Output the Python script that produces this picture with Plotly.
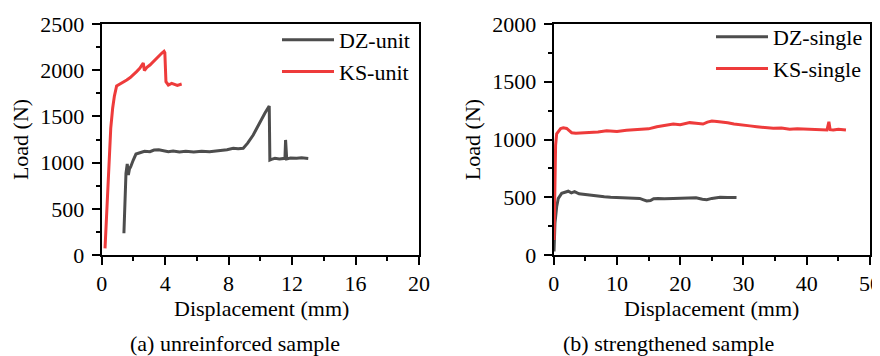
import plotly.graph_objects as go

# ---------------- data ----------------
dz_unit_x = [1.40, 1.47, 1.53, 1.61, 1.68, 1.75, 1.83, 1.99, 2.16, 2.41, 2.7, 3.04, 3.3, 3.6, 3.87, 4.2, 4.5, 4.9,
             5.3, 5.8, 6.3, 6.8, 7.2, 7.46, 7.9, 8.29, 8.6, 8.92, 9.2, 9.55, 9.8, 10.08, 10.3, 10.56,
             10.60, 10.7, 10.92, 11.2, 11.55, 11.59, 11.66, 11.9, 12.29, 12.6, 13.02]
dz_unit_y = [235, 595, 884, 985, 866, 930, 956, 1028, 1093, 1107, 1122, 1118, 1136, 1140, 1130, 1118, 1126, 1114,
             1122, 1116, 1124, 1118, 1126, 1129, 1140, 1155, 1150, 1155, 1210, 1299, 1380, 1479, 1540, 1612,
             1028, 1035, 1046, 1040, 1046, 1245, 1040, 1050, 1046, 1052, 1045]

ks_unit_x = [0.21, 0.35, 0.50, 0.57, 0.69, 0.80, 0.94, 1.10, 1.26, 1.40, 1.58, 1.80, 1.99, 2.20, 2.40, 2.52, 2.62,
             2.69, 2.85, 3.04, 3.25, 3.47, 3.65, 3.78, 3.93, 3.98, 4.05, 4.20, 4.41, 4.62, 4.77, 5.04]
ks_unit_y = [72, 600, 1150, 1371, 1588, 1720, 1829, 1845, 1858, 1870, 1894, 1920, 1948, 1985, 2020, 2056, 2078,
             1995, 2030, 2056, 2095, 2128, 2160, 2183, 2205, 2190, 1876, 1840, 1858, 1850, 1836, 1850]

dz_single_x = [0.05, 0.2, 0.47, 0.73, 1.26, 2.05, 2.3, 2.8, 3.3, 4.0, 4.7, 5.2, 6.0, 7.0, 8.0, 9.0, 10.0, 11.0, 12.0,
               13.0, 13.6, 14.2, 14.7, 15.3, 15.8, 16.5, 17.5, 18.9, 20.0, 21.5, 22.5, 23.5, 24.2, 25.0, 26.3,
               27.5, 28.9]
dz_single_y = [30, 277, 418, 491, 534, 548, 552, 538, 548, 530, 525, 519, 515, 508, 505, 500, 499, 498, 495,
               492, 490, 478, 468, 472, 488, 490, 487, 490, 492, 499, 495, 482, 478, 490, 499, 498, 497]

ks_single_x = [0.05, 0.15, 0.3, 0.47, 0.8, 1.1, 1.52, 2.05, 2.5, 2.84, 3.5, 4.5, 5.74, 7.0, 8.37, 10.0, 11.5, 13.6,
               15.0, 16.3, 17.5, 18.9, 20.0, 21.5, 22.5, 23.6, 24.3, 25.0, 25.8, 26.6, 27.5, 28.5, 29.5, 31.0,
               32.1, 33.5, 34.7, 36.0, 37.3, 38.5, 40.0, 41.5, 42.6, 43.2, 43.5, 43.7, 44.2, 45.0, 46.2]
ks_single_y = [130, 600, 950, 1050, 1080, 1095, 1102, 1096, 1075, 1059, 1055, 1058, 1059, 1065, 1076, 1070, 1080,
               1088, 1092, 1111, 1120, 1134, 1128, 1146, 1140, 1134, 1150, 1160, 1155, 1152, 1145, 1135, 1126,
               1118, 1111, 1105, 1097, 1100, 1088, 1092, 1088, 1085, 1080, 1082, 1154, 1085, 1082, 1088, 1082]

x1_ticks = [0, 4, 8, 12, 16, 20]
y1_ticks = [0, 500, 1000, 1500, 2000, 2500]
x2_ticks = [0, 10, 20, 30, 40, 50]
y2_ticks = [0, 500, 1000, 1500, 2000]

x_title = "Displacement (mm)"
y_title = "Load (N)"
caption_a = "(a) unreinforced sample"
caption_b = "(b) strengthened sample"

GRAY = "#4d4d4d"
RED = "#ee3b3b"
FONT = "Liberation Serif, Times New Roman, serif"
FS = 22

fig = go.Figure()
fig.add_trace(go.Scatter(x=dz_unit_x, y=dz_unit_y, mode="lines", name="DZ-unit",
                         line=dict(color=GRAY, width=3), xaxis="x", yaxis="y", legend="legend"))
fig.add_trace(go.Scatter(x=ks_unit_x, y=ks_unit_y, mode="lines", name="KS-unit",
                         line=dict(color=RED, width=3), xaxis="x", yaxis="y", legend="legend"))
fig.add_trace(go.Scatter(x=dz_single_x, y=dz_single_y, mode="lines", name="DZ-single",
                         line=dict(color=GRAY, width=3), xaxis="x2", yaxis="y2", legend="legend2"))
fig.add_trace(go.Scatter(x=ks_single_x, y=ks_single_y, mode="lines", name="KS-single",
                         line=dict(color=RED, width=3), xaxis="x2", yaxis="y2", legend="legend2"))

# the page body has an 8px margin, so the figure is sized to fit the window from (8, 8)
OFF = 8
W, H = 880 - OFF, 356 - OFF
def px_x(p): return (p - OFF) / W
def px_y(p): return (H - (p - OFF)) / H

common_axis = dict(showline=True, linecolor="black", linewidth=2, mirror=True, ticks="outside",
                   ticklen=8, tickwidth=2, tickcolor="black", showgrid=False, zeroline=False,
                   automargin=False, ticklabeloverflow="allow",
                   tickfont=dict(family=FONT, size=FS, color="black"),
                   title_font=dict(family=FONT, size=FS, color="black"))

def text_ann(text, x, y, **kw):
    return dict(text=text, x=px_x(x), y=px_y(y), xref="paper", yref="paper", showarrow=False,
                xanchor="center", yanchor="middle", font=dict(family=FONT, size=FS, color="black"), **kw)

fig.update_layout(
    width=W, height=H, margin=dict(l=0, r=0, t=0, b=0, autoexpand=False),
    paper_bgcolor="white", plot_bgcolor="white",
    font=dict(family=FONT, size=FS, color="black"),
    xaxis=dict(domain=[px_x(101.7), px_x(419)], range=[0, 20], tickvals=x1_ticks,
               minor=dict(dtick=2, ticklen=4, tickwidth=2, ticks="outside", tickcolor="black"),
               anchor="y", **common_axis),
    yaxis=dict(domain=[px_y(255), px_y(24)], range=[0, 2500], tickvals=y1_ticks, ticklabelstandoff=3,
               minor=dict(dtick=250, ticklen=4, tickwidth=2, ticks="outside", tickcolor="black"),
               title=dict(text=y_title, standoff=6), anchor="x", **common_axis),
    xaxis2=dict(domain=[px_x(553.7), px_x(870)], range=[0, 50], tickvals=x2_ticks,
                minor=dict(dtick=5, ticklen=4, tickwidth=2, ticks="outside", tickcolor="black"),
                anchor="y2", **common_axis),
    yaxis2=dict(domain=[px_y(255), px_y(24)], range=[0, 2000], tickvals=y2_ticks, ticklabelstandoff=3,
                minor=dict(dtick=250, ticklen=4, tickwidth=2, ticks="outside", tickcolor="black"),
                title=dict(text=y_title, standoff=6), anchor="x2", **common_axis),
    legend=dict(x=px_x(277), y=px_y(19), xanchor="left", yanchor="top", bgcolor="rgba(0,0,0,0)",
                font=dict(family=FONT, size=FS, color="black"), itemwidth=52, tracegroupgap=0),
    legend2=dict(x=px_x(711), y=px_y(16), xanchor="left", yanchor="top", bgcolor="rgba(0,0,0,0)",
                 font=dict(family=FONT, size=FS, color="black"), itemwidth=52, tracegroupgap=0),
    annotations=[
        text_ann(x_title, 261, 308),
        text_ann(x_title, 711.7, 308),
        text_ann(caption_a, 234.7, 343),
        text_ann(caption_b, 668, 343),
    ],
)

fig.write_html("out.html")
